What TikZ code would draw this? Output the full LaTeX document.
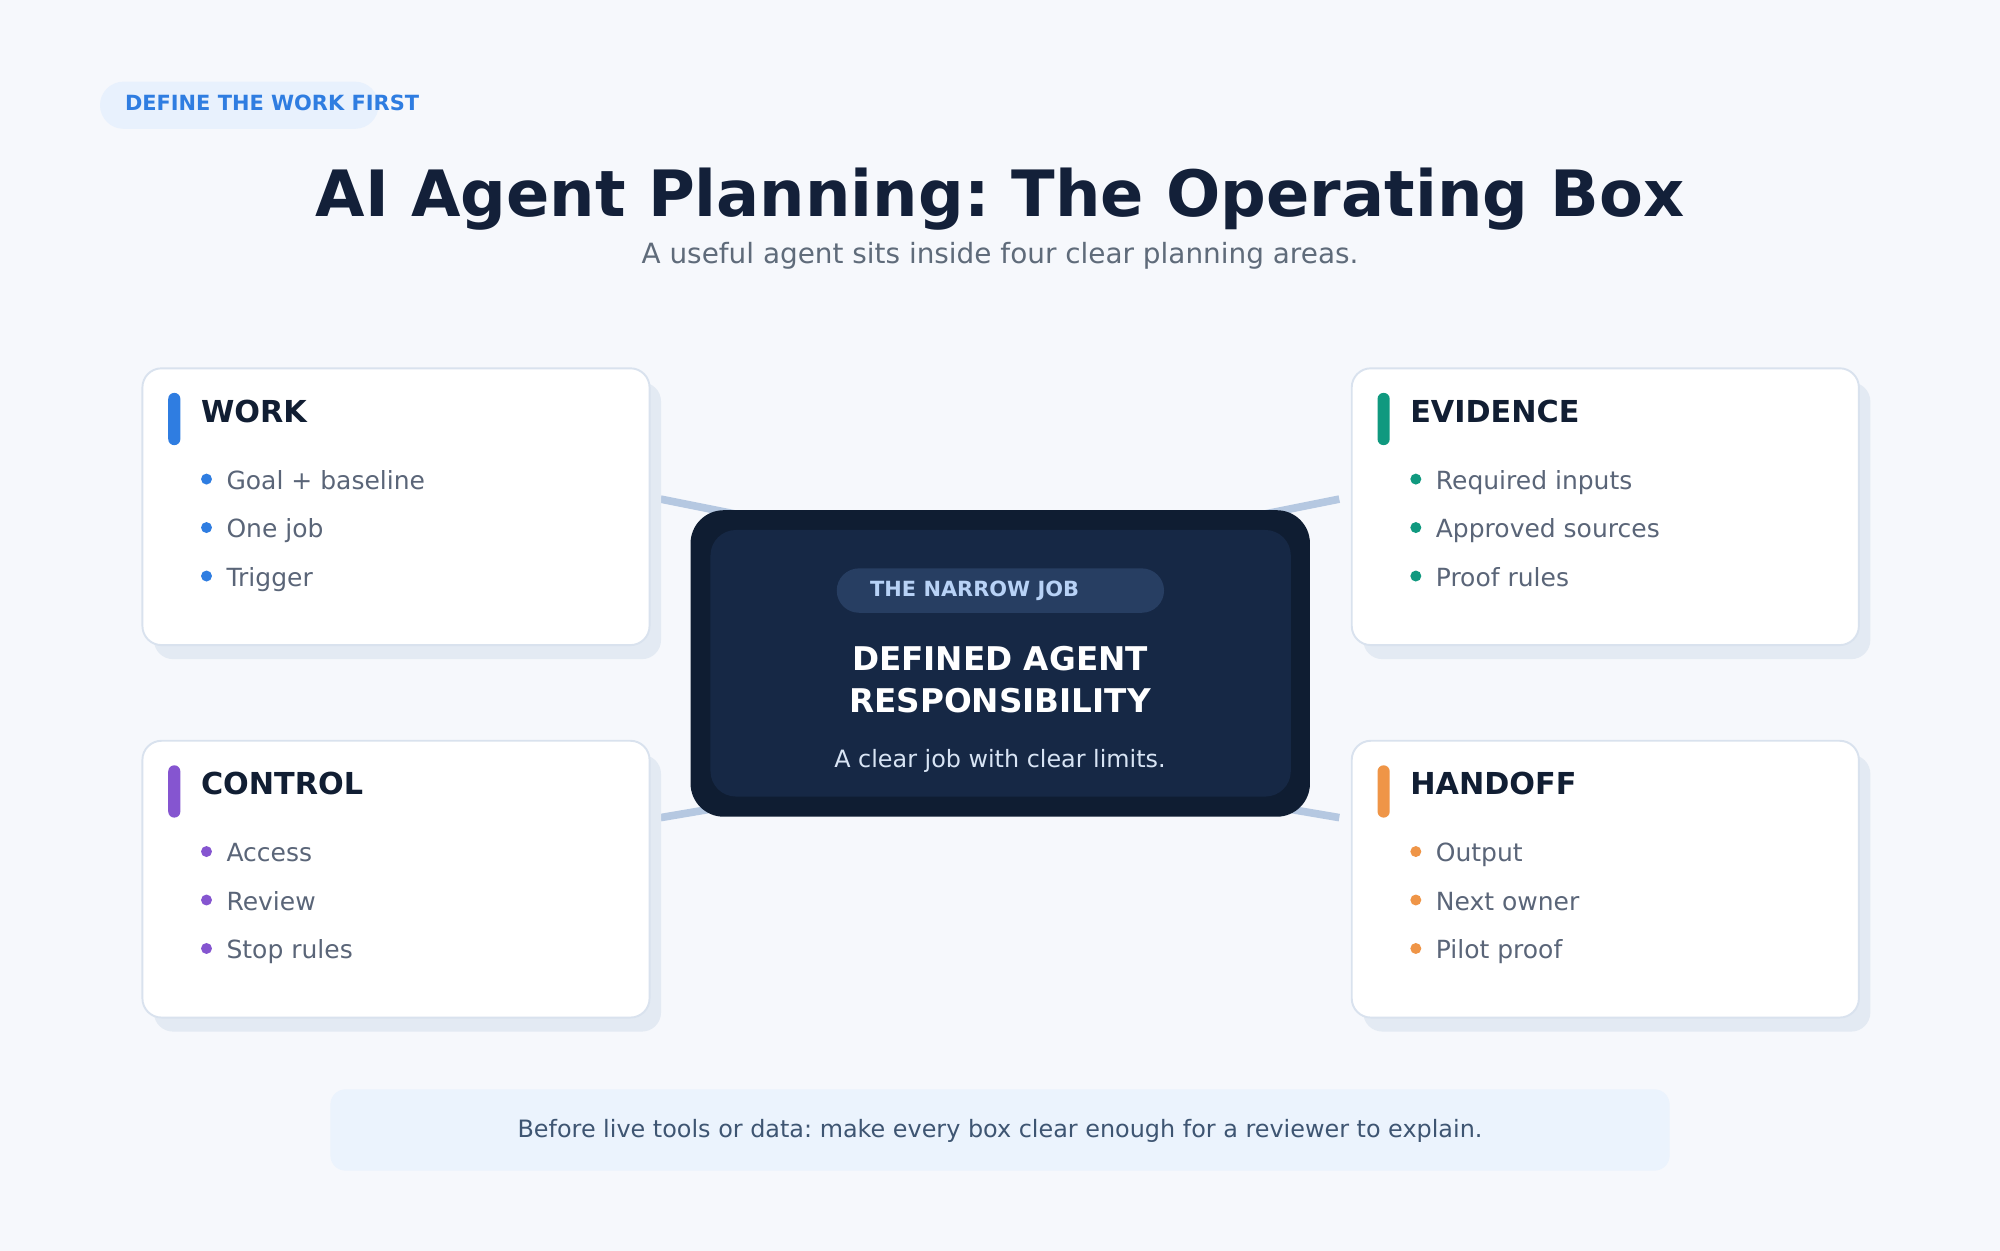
\documentclass[tikz,border=0pt]{standalone}
\usepackage{fontspec}
\setmainfont{DejaVu Sans}
\frenchspacing
\usetikzlibrary{calc,shadows}
\definecolor{bgc}{HTML}{F6F8FC}
\definecolor{titlec}{HTML}{132039}
\definecolor{subc}{HTML}{5F6B7A}
\definecolor{tagfill}{HTML}{E8F1FD}
\definecolor{tagtext}{HTML}{2F7DE1}
\definecolor{cardline}{HTML}{D9E2EE}
\definecolor{shadowc}{HTML}{E3EAF3}
\definecolor{itemc}{HTML}{5A6578}
\definecolor{hdrc}{HTML}{111E33}
\definecolor{accblue}{HTML}{2F7DE1}
\definecolor{accteal}{HTML}{10997F}
\definecolor{accpurple}{HTML}{8555D0}
\definecolor{accorange}{HTML}{EF9547}
\definecolor{linkc}{HTML}{B5C8E1}
\definecolor{coreout}{HTML}{0F1D32}
\definecolor{corein}{HTML}{162845}
\definecolor{pillc}{HTML}{273E62}
\definecolor{pilltext}{HTML}{B8D2F6}
\definecolor{coresub}{HTML}{D8E4F4}
\definecolor{bannerfill}{HTML}{EBF3FD}
\definecolor{bannertext}{HTML}{3E5572}
\tikzset{
  card/.style={draw=cardline, line width=1.5pt, fill=white, rounded corners=15pt,
    minimum width=397.6pt, minimum height=217pt, inner sep=0pt,
    drop shadow={shadow xshift=9pt, shadow yshift=-11pt, fill=shadowc, opacity=1}},
  hdr/.style={anchor=base west, inner sep=0pt, text=hdrc, font=\fontsize{23.7}{28}\selectfont\bfseries},
  itemtxt/.style={anchor=base west, inner sep=0pt, text=itemc, font=\fontsize{19.6}{24}\selectfont},
  tagtxt/.style={anchor=base west, inner sep=0pt, font=\fontsize{16.4}{20}\selectfont\bfseries},
  link/.style={draw=linkc, line width=6pt},
  plain/.style={inner sep=0pt, anchor=base}
}
\newcommand\plancard[8]{%
  \node[card, anchor=north west] (#1) at (#2,#3) {};
  \fill[#4, rounded corners=4.7pt] ($(#1.north west)+(21,20)$) rectangle ($(#1.north west)+(30.5,61)$);
  \node[hdr] (#1-title) at ($(#1.north west)+(46.5,43)$) {#5};
  \fill[#4] ($(#1.north west)+(51,87.6)$) circle (4.3pt);
  \fill[#4] ($(#1.north west)+(51,125.6)$) circle (4.3pt);
  \fill[#4] ($(#1.north west)+(51,163.6)$) circle (4.3pt);
  \node[itemtxt] (#1-a) at ($(#1.north west)+(66.5,95.5)$) {#6};
  \node[itemtxt] (#1-b) at ($(#1.north west)+(66.5,133.5)$) {#7};
  \node[itemtxt] (#1-c) at ($(#1.north west)+(66.5,171.5)$) {#8};
}
\begin{document}
\begin{tikzpicture}[x=1pt,y=-1pt]
\useasboundingbox (0,0) rectangle (1568,980);
\fill[bgc] (-2,-2) rectangle (1570,982);

% top tag
\node[fill=tagfill, rounded corners=18.5pt, minimum width=218.4pt, minimum height=37pt, inner sep=0pt] (tag) at (187.6,82.5) {};
\node[tagtxt, text=tagtext] (tagtxt) at (97.8,86.8) {DEFINE THE WORK FIRST};

% title
\node[plain, text=titlec, font=\fontsize{50.1}{60}\selectfont\bfseries] (title) at (784,169.5) {AI Agent Planning: The Operating Box};
\node[plain, text=subc, font=\fontsize{21.86}{26}\selectfont] (subtitle) at (784,206.5) {A useful agent sits inside four clear planning areas.};

% connectors (behind everything)
\coordinate (tl-out) at (518,391.3);
\coordinate (tl-in) at (625,412.7);
\coordinate (bl-out) at (518,641);
\coordinate (bl-in) at (625,622.8);
\coordinate (tr-out) at (1050,391.3);
\coordinate (tr-in) at (943,412.7);
\coordinate (br-out) at (1050,641);
\coordinate (br-in) at (943,622.8);
\draw[link] (tl-out) -- (tl-in);
\draw[link] (bl-out) -- (bl-in);
\draw[link] (tr-out) -- (tr-in);
\draw[link] (br-out) -- (br-in);

% cards
\plancard{work}{110.9}{288}{accblue}{WORK}{Goal + baseline}{One job}{Trigger}
\plancard{evidence}{1059}{288}{accteal}{EVIDENCE}{Required inputs}{Approved sources}{Proof rules}
\plancard{control}{110.9}{580}{accpurple}{CONTROL}{Access}{Review}{Stop rules}
\plancard{handoff}{1059}{580}{accorange}{HANDOFF}{Output}{Next owner}{Pilot proof}

% center box
\node[fill=coreout, rounded corners=26pt, minimum width=485.6pt, minimum height=240.3pt, inner sep=0pt] (core) at (784.2,520.15) {};
\node[fill=corein, rounded corners=20pt, minimum width=455pt, minimum height=209pt, inner sep=0pt] (coreinner) at (784.5,520) {};
\node[fill=pillc, rounded corners=17.4pt, minimum width=256.6pt, minimum height=34.8pt, inner sep=0pt] (pill) at (784.3,463) {};
\node[tagtxt, text=pilltext] (pilltxt) at (682,467.3) {THE NARROW JOB};
\node[plain, text=white, font=\fontsize{25.6}{30}\selectfont\bfseries] (core-l1) at (784,525.8) {DEFINED AGENT};
\node[plain, text=white, font=\fontsize{25.6}{30}\selectfont\bfseries] (core-l2) at (784,558.8) {RESPONSIBILITY};
\node[plain, text=coresub, font=\fontsize{18.7}{22}\selectfont] (core-sub) at (784,601.6) {A clear job with clear limits.};

% banner
\node[fill=bannerfill, rounded corners=12pt, minimum width=1050pt, minimum height=63.8pt, inner sep=0pt] (banner) at (784,885.9) {};
\node[plain, text=bannertext, font=\fontsize{18.73}{22}\selectfont] (bannertxt) at (784,891.7) {Before live tools or data: make every box clear enough for a reviewer to explain.};
\end{tikzpicture}
\end{document}
